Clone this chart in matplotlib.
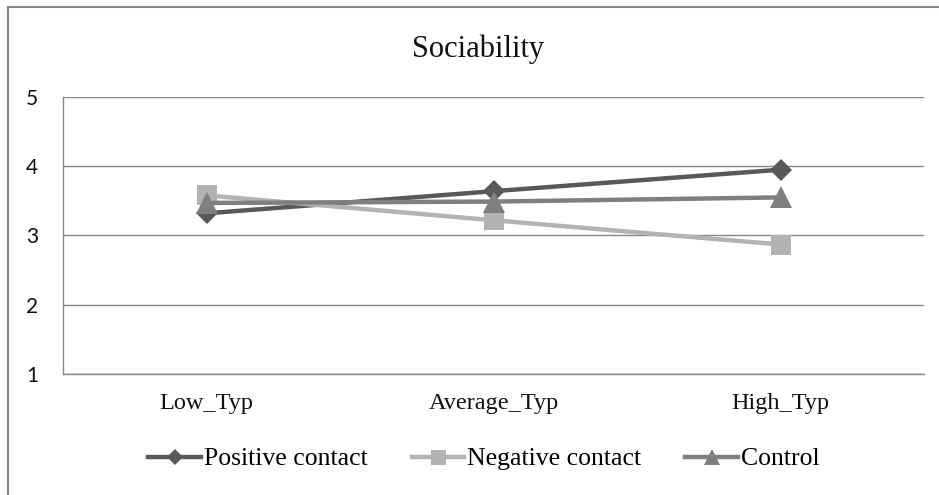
import matplotlib
matplotlib.use("Agg")
import matplotlib.pyplot as plt
from matplotlib.lines import Line2D
from matplotlib.patches import Rectangle

categories = ["Low_Typ", "Average_Typ", "High_Typ"]
series_names = ["Positive contact", "Negative contact", "Control"]
positive = [3.32, 3.64, 3.95]
negative = [3.58, 3.22, 2.87]
control = [3.47, 3.49, 3.55]
yticks = [1, 2, 3, 4, 5]
title = "Sociability"

colors = ["#595959", "#b3b3b3", "#7f7f7f"]
markers = ["D", "s", "^"]
msizes = [11, 15, 15.5]

W, H = 939, 495
fig = plt.figure(figsize=(W / 100, H / 100), dpi=100)
serif = "Liberation Serif"

# outer chart border
fig.patches.append(Rectangle((8 / W, -0.1), 1.2, 1 - 7 / H + 0.1, transform=fig.transFigure,
                             fill=False, edgecolor="#868686", linewidth=1.5))

ax = fig.add_axes([63 / W, (H - 374) / H, (924 - 63) / W, (374 - 97) / H])
x = list(range(len(categories)))
data = [positive, negative, control]
handles = []
for vals, c, m, ms, name in zip(data, colors, markers, msizes, series_names):
    ax.plot(x, vals, color=c, linewidth=3.2, marker=m, markersize=ms,
            markeredgewidth=0, zorder=3, solid_capstyle="round")
    handles.append(Line2D([], [], color=c, linewidth=3.2, marker=m, markersize=ms * 0.72,
                          markeredgewidth=0, label=name))

ax.set_xlim(-0.5, 2.5)
ax.set_ylim(1, 5)
ax.set_yticks(yticks)
ax.set_yticklabels([str(v) for v in yticks], fontfamily="Lato", fontsize=15, color="#111111")
ax.set_xticks(x)
ax.set_xticklabels(categories, fontfamily=serif, fontsize=17.5, color="#111111")
ax.tick_params(axis="y", length=0, pad=18)
ax.tick_params(axis="x", length=0, pad=14)
ax.grid(axis="y", color="#868686", linewidth=1.0)
ax.set_axisbelow(True)
for s in ["top", "right"]:
    ax.spines[s].set_visible(False)
for s in ["left", "bottom"]:
    ax.spines[s].set_color("#868686")
    ax.spines[s].set_linewidth(1.0)

fig.text(478 / W, 1 - 57 / H, title, ha="center", va="baseline",
         fontfamily=serif, fontsize=22, color="#111111")

fig.legend(handles=handles, loc="center", bbox_to_anchor=(484 / W, 1 - 459 / H),
           ncol=3, frameon=False, prop={"family": serif, "size": 18.5},
           handlelength=2.05, handletextpad=0.12, columnspacing=1.7,
           borderaxespad=0, borderpad=0)

fig.savefig("out.png", dpi=100)
